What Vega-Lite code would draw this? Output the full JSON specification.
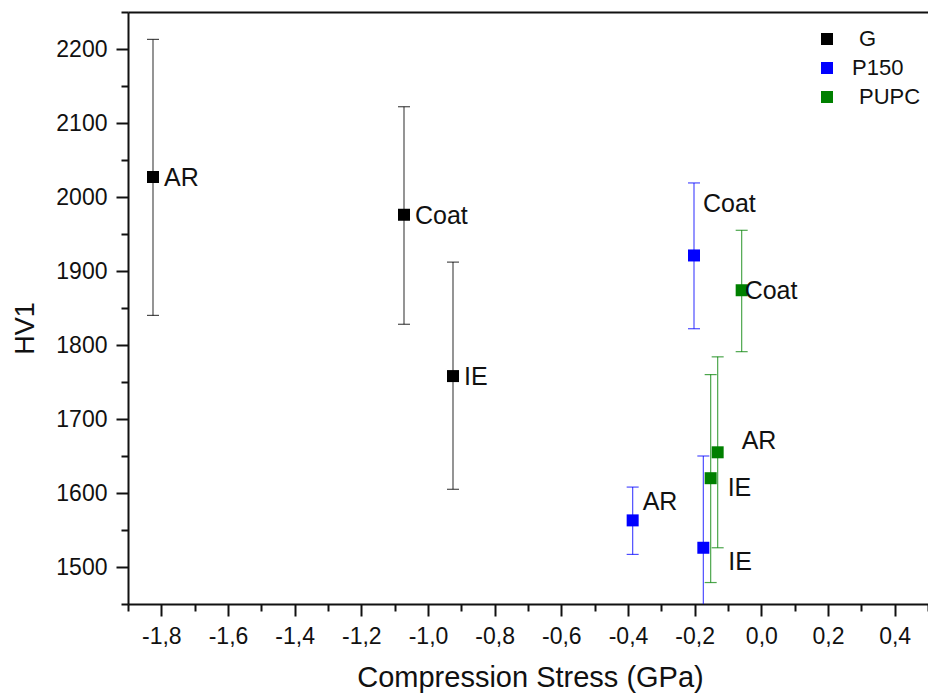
{
  "$schema": "https://vega.github.io/schema/vega-lite/v6.json",
  "width": 800,
  "height": 592,
  "autosize": "none",
  "padding": {"left": 128, "top": 12, "right": 0, "bottom": 89},
  "background": "white",
  "config": {
    "view": {"stroke": null},
    "font": "Liberation Sans",
    "axis": {"labelFont": "Liberation Sans", "titleFont": "Liberation Sans", "labelColor": "#111", "titleColor": "#111", "domainColor": "#111", "tickColor": "#111", "grid": false}
  },
  "data": {
    "values": [
      {"series": "G", "label": "AR", "stress": -1.825, "hv": 2027, "lo": 1840, "hi": 2213},
      {"series": "G", "label": "Coat", "stress": -1.072, "hv": 1976, "lo": 1828, "hi": 2122},
      {"series": "G", "label": "IE", "stress": -0.925, "hv": 1758, "lo": 1605, "hi": 1912},
      {"series": "P150", "label": "Coat", "stress": -0.202, "hv": 1921, "lo": 1822, "hi": 2019},
      {"series": "P150", "label": "AR", "stress": -0.386, "hv": 1563, "lo": 1517, "hi": 1608},
      {"series": "P150", "label": "IE", "stress": -0.174, "hv": 1526, "lo": 1401, "hi": 1650},
      {"series": "PUPC", "label": "Coat", "stress": -0.059, "hv": 1874, "lo": 1791, "hi": 1955},
      {"series": "PUPC", "label": "AR", "stress": -0.131, "hv": 1655, "lo": 1526, "hi": 1784},
      {"series": "PUPC", "label": "IE", "stress": -0.152, "hv": 1620, "lo": 1479, "hi": 1760}
    ]
  },
  "resolve": {"axis": {"x": "independent", "y": "independent"}},
  "layer": [
    {
      "mark": {"type": "rule", "clip": true, "strokeWidth": 1.2, "opacity": 0.7},
      "encoding": {
        "x": {"field": "stress", "type": "quantitative", "scale": {"domain": [-1.9, 0.5], "nice": false, "zero": false},
          "axis": {"orient": "bottom", "values": [-1.8, -1.6, -1.4, -1.2, -1.0, -0.8, -0.6, -0.4, -0.2, 0, 0.2, 0.4],
            "labelExpr": "(datum.value < -0.00001 ? '-' : '') + replace(format(abs(datum.value), '.1f'), '.', ',')",
            "labelFontSize": 23, "labelPadding": 9, "tickSize": 12, "tickWidth": 2, "domainWidth": 2,
            "title": "Compression Stress (GPa)", "titleFontSize": 29, "titleFontWeight": "normal",
            "titleBaseline": "alphabetic", "titleY": 82, "titleX": 402, "titleAnchor": "middle"}},
        "y": {"field": "lo", "type": "quantitative", "scale": {"domain": [1450, 2250], "nice": false, "zero": false},
          "axis": {"orient": "left", "values": [1500, 1600, 1700, 1800, 1900, 2000, 2100, 2200], "format": "d",
            "labelFontSize": 23, "labelPadding": 9, "tickSize": 12, "tickWidth": 2, "domainWidth": 2,
            "title": "HV1", "titleFontSize": 27, "titleFontWeight": "normal", "titleAngle": -90,
            "titleBaseline": "alphabetic", "titleAlign": "center", "titleX": -95, "titleY": 316}},
        "y2": {"field": "hi"},
        "color": {"field": "series", "type": "nominal", "scale": {"domain": ["G", "P150", "PUPC"], "range": ["#000000", "#0000ff", "#008000"]},
          "legend": {"orient": "none", "legendX": 688, "legendY": 16, "title": null, "symbolType": "square", "symbolSize": 144, "symbolStrokeWidth": 0, "symbolOpacity": 1,
            "labelFontSize": 22, "labelFont": "Liberation Sans", "labelColor": "#111", "labelOffset": 14, "rowPadding": 7,
            "encode": {"symbols": {"update": {"opacity": {"value": 1}, "fillOpacity": {"value": 1}}},
                       "labels": {"update": {"dx": {"signal": "datum.value == 'P150' ? 0 : 7"}}}}}}
      }
    },
    {
      "mark": {"type": "tick", "orient": "horizontal", "size": 12, "thickness": 1.2, "clip": true, "opacity": 0.7},
      "encoding": {
        "x": {"field": "stress", "type": "quantitative", "axis": null},
        "y": {"field": "lo", "type": "quantitative", "axis": null},
        "color": {"field": "series", "type": "nominal"}
      }
    },
    {
      "mark": {"type": "tick", "orient": "horizontal", "size": 12, "thickness": 1.2, "clip": true, "opacity": 0.7},
      "encoding": {
        "x": {"field": "stress", "type": "quantitative", "axis": null},
        "y": {"field": "hi", "type": "quantitative", "axis": null},
        "color": {"field": "series", "type": "nominal"}
      }
    },
    {
      "mark": {"type": "point", "shape": "square", "filled": true, "size": 144, "opacity": 1},
      "encoding": {
        "x": {"field": "stress", "type": "quantitative",
          "axis": {"orient": "bottom", "values": [-1.9, -1.7, -1.5, -1.3, -1.1, -0.9, -0.7, -0.5, -0.3, -0.1, 0.1, 0.3, 0.5], "labels": false, "domain": false, "tickSize": 7, "tickWidth": 2, "title": null}},
        "y": {"field": "hv", "type": "quantitative",
          "axis": {"orient": "left", "values": [1450, 1550, 1650, 1750, 1850, 1950, 2050, 2150, 2250], "labels": false, "domain": false, "tickSize": 7, "tickWidth": 2, "title": null}},
        "color": {"field": "series", "type": "nominal"}
      }
    },
    {
      "mark": {"type": "rule", "strokeWidth": 0},
      "encoding": {
        "x": {"field": "stress", "type": "quantitative",
          "axis": {"orient": "top", "labels": false, "ticks": false, "domainWidth": 2, "title": null}},
        "y": {"field": "hv", "type": "quantitative",
          "axis": {"orient": "right", "labels": false, "ticks": false, "domainWidth": 1, "domainColor": "#cccccc", "title": null}}
      }
    },
    {
      "transform": [{"filter": "datum.series == 'G'"}],
      "mark": {"type": "text", "align": "left", "baseline": "middle", "dx": 11, "dy": 1, "fontSize": 25, "color": "#111"},
      "encoding": {
        "x": {"field": "stress", "type": "quantitative", "axis": null},
        "y": {"field": "hv", "type": "quantitative", "axis": null},
        "text": {"field": "label"}
      }
    },
    {
      "transform": [{"filter": "datum.series == 'P150' && datum.label == 'Coat'"}],
      "mark": {"type": "text", "align": "left", "baseline": "middle", "dx": 9, "dy": -51, "fontSize": 25, "color": "#111"},
      "encoding": {
        "x": {"field": "stress", "type": "quantitative", "axis": null},
        "y": {"field": "hv", "type": "quantitative", "axis": null},
        "text": {"field": "label"}
      }
    },
    {
      "transform": [{"filter": "datum.series == 'P150' && datum.label == 'AR'"}],
      "mark": {"type": "text", "align": "left", "baseline": "middle", "dx": 10, "dy": -18, "fontSize": 25, "color": "#111"},
      "encoding": {
        "x": {"field": "stress", "type": "quantitative", "axis": null},
        "y": {"field": "hv", "type": "quantitative", "axis": null},
        "text": {"field": "label"}
      }
    },
    {
      "transform": [{"filter": "datum.series == 'P150' && datum.label == 'IE'"}],
      "mark": {"type": "text", "align": "left", "baseline": "middle", "dx": 25, "dy": 14, "fontSize": 25, "color": "#111"},
      "encoding": {
        "x": {"field": "stress", "type": "quantitative", "axis": null},
        "y": {"field": "hv", "type": "quantitative", "axis": null},
        "text": {"field": "label"}
      }
    },
    {
      "transform": [{"filter": "datum.series == 'PUPC' && datum.label == 'Coat'"}],
      "mark": {"type": "text", "align": "left", "baseline": "middle", "dx": 3, "dy": 1, "fontSize": 25, "color": "#111"},
      "encoding": {
        "x": {"field": "stress", "type": "quantitative", "axis": null},
        "y": {"field": "hv", "type": "quantitative", "axis": null},
        "text": {"field": "label"}
      }
    },
    {
      "transform": [{"filter": "datum.series == 'PUPC' && datum.label == 'AR'"}],
      "mark": {"type": "text", "align": "left", "baseline": "middle", "dx": 24, "dy": -11, "fontSize": 25, "color": "#111"},
      "encoding": {
        "x": {"field": "stress", "type": "quantitative", "axis": null},
        "y": {"field": "hv", "type": "quantitative", "axis": null},
        "text": {"field": "label"}
      }
    },
    {
      "transform": [{"filter": "datum.series == 'PUPC' && datum.label == 'IE'"}],
      "mark": {"type": "text", "align": "left", "baseline": "middle", "dx": 17, "dy": 10, "fontSize": 25, "color": "#111"},
      "encoding": {
        "x": {"field": "stress", "type": "quantitative", "axis": null},
        "y": {"field": "hv", "type": "quantitative", "axis": null},
        "text": {"field": "label"}
      }
    }
  ]
}
